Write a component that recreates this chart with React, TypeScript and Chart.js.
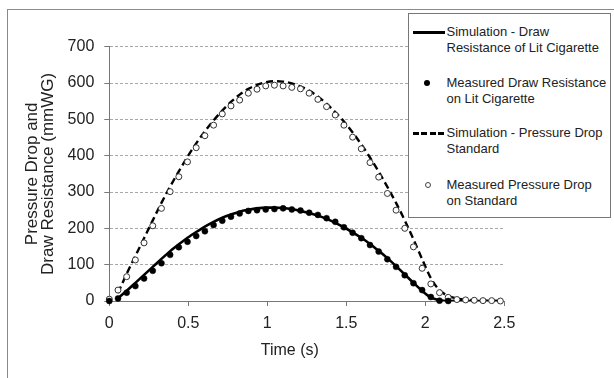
import React, { useEffect, useRef } from 'react';
import { Chart, registerables } from 'chart.js';

Chart.register(...registerables);

// ---- data ----
const TIME = [
  0, 0.055, 0.11, 0.165, 0.22, 0.275, 0.33, 0.385, 0.44, 0.495,
  0.55, 0.605, 0.66, 0.715, 0.77, 0.825, 0.88, 0.935, 0.99, 1.045,
  1.1, 1.155, 1.21, 1.265, 1.32, 1.375, 1.43, 1.485, 1.54, 1.595,
  1.65, 1.705, 1.76, 1.815, 1.87, 1.925, 1.98, 2.035, 2.09, 2.145,
  2.2, 2.255, 2.31, 2.365, 2.42, 2.475,
];

const MEASURED_PRESSURE_DROP = [
  5, 30, 67, 113, 160, 207, 255, 301, 342, 383,
  422, 455, 484, 515, 537, 553, 572, 583, 592, 594,
  592, 588, 584, 572, 555, 535, 512, 484, 451, 419,
  381, 341, 296, 250, 200, 149, 90, 47, 23, 10,
  4, 3, 2, 1, 1, 0,
];

const MEASURED_DRAW_RESISTANCE = [
  0, 7, 23, 41, 62, 83, 104, 127, 148, 163,
  179, 192, 209, 221, 232, 241, 248, 250, 252, 253,
  255, 252, 249, 243, 237, 228, 218, 203, 188, 173,
  154, 136, 115, 94, 71, 49, 30, 11, 1, 0,
];

const SIM_TIME = [
  0.055, 0.11, 0.165, 0.22, 0.275, 0.33, 0.385, 0.44, 0.495,
  0.55, 0.605, 0.66, 0.715, 0.77, 0.825, 0.88, 0.935, 0.99, 1.045,
  1.1, 1.155, 1.21, 1.265, 1.32, 1.375, 1.43, 1.485, 1.54, 1.595,
  1.65, 1.705, 1.76, 1.815, 1.87, 1.925, 1.98, 2.035, 2.09, 2.145,
  2.2, 2.255, 2.31, 2.365, 2.42, 2.475,
];

const SIM_DRAW_RESISTANCE = [
  8, 28, 50, 72, 94, 116, 137, 156, 174,
  190, 205, 218, 229, 238, 246, 251, 255, 257, 257,
  256, 253, 248, 242, 235, 226, 215, 203, 189, 174,
  157, 138, 118, 96, 73, 50, 28, 10, 2, 0,
  0, 0, 0, 0, 0, 0,
];

const SIM_PRESSURE_DROP = [
  22, 75, 124, 173, 222, 270, 315, 357, 397,
  434, 467, 497, 524, 548, 568, 584, 595, 602, 605,
  604, 599, 591, 579, 563, 543, 520, 494, 464, 431,
  395, 356, 314, 270, 222, 170, 115, 63, 30, 14,
  7, 4, 2, 1, 0, 0,
];

const X_TICKS = [0, 0.5, 1, 1.5, 2, 2.5];
const X_TICK_LABELS = ['0', '0.5', '1', '1.5', '2', '2.5'];
const Y_TICKS = [0, 100, 200, 300, 400, 500, 600, 700];
const Y_TICK_LABELS = ['0', '100', '200', '300', '400', '500', '600', '700'];

const X_TITLE = 'Time (s)';
const Y_TITLE = ['Pressure Drop and', 'Draw Resistance (mmWG)'];

const LEGEND_SIM_DRAW = ['Simulation - Draw', 'Resistance of Lit Cigarette'];
const LEGEND_MEAS_DRAW = ['Measured Draw Resistance', 'on Lit Cigarette'];
const LEGEND_SIM_PRESSURE = ['Simulation - Pressure Drop', 'Standard'];
const LEGEND_MEAS_PRESSURE = ['Measured Pressure Drop', 'on Standard'];

const FONT = '"Liberation Sans", Arial, sans-serif';

const pairs = (xs: number[], ys: number[]) => ys.map((y, i) => ({ x: xs[i], y }));

const xTitlePlugin = {
  id: 'xTitleCustom',
  afterDraw(chart: any) {
    const { ctx, chartArea } = chart;
    ctx.save();
    ctx.font = `16px ${FONT}`;
    ctx.fillStyle = '#222';
    ctx.textAlign = 'center';
    ctx.textBaseline = 'middle';
    ctx.fillText(X_TITLE, (chartArea.left + chartArea.right) / 2 - 17, chartArea.bottom + 50);
    ctx.restore();
  },
};

function LegendText({ lines, top }: { lines: string[]; top: number }) {
  return (
    <div
      style={{
        position: 'absolute',
        left: 446.5,
        top,
        font: `13px ${FONT}`,
        lineHeight: '16px',
        color: '#222',
        whiteSpace: 'nowrap',
      }}
    >
      {lines.map((l, i) => (
        <div key={i}>{l}</div>
      ))}
    </div>
  );
}

export default function App() {
  const canvasRef = useRef<HTMLCanvasElement | null>(null);

  useEffect(() => {
    const canvas = canvasRef.current;
    if (!canvas) return;
    const chart = new Chart(canvas, {
      type: 'scatter',
      data: {
        datasets: [
          {
            label: LEGEND_MEAS_DRAW.join(' '),
            data: pairs(TIME, MEASURED_DRAW_RESISTANCE),
            showLine: false,
            pointRadius: 3,
            pointBackgroundColor: '#000',
            pointBorderColor: '#000',
            pointBorderWidth: 0.5,
            clip: false,
          } as any,
          {
            label: LEGEND_MEAS_PRESSURE.join(' '),
            data: pairs(TIME, MEASURED_PRESSURE_DROP),
            showLine: false,
            pointRadius: 3,
            pointBackgroundColor: '#fff',
            pointBorderColor: '#333',
            pointBorderWidth: 1,
            clip: false,
          } as any,
          {
            type: 'line',
            label: LEGEND_SIM_DRAW.join(' '),
            data: pairs(SIM_TIME, SIM_DRAW_RESISTANCE),
            borderColor: '#000',
            borderWidth: 2.6,
            pointRadius: 0,
            cubicInterpolationMode: 'monotone',
            fill: false,
          } as any,
          {
            type: 'line',
            label: LEGEND_SIM_PRESSURE.join(' '),
            data: pairs(SIM_TIME, SIM_PRESSURE_DROP),
            borderColor: '#000',
            borderWidth: 2.4,
            borderDash: [7, 4],
            pointRadius: 0,
            cubicInterpolationMode: 'monotone',
            fill: false,
          } as any,
        ],
      },
      options: {
        responsive: false,
        animation: false,
        devicePixelRatio: 1,
        layout: { padding: { left: 0, top: 46.7, right: 109.7, bottom: 37 } },
        plugins: {
          legend: { display: false },
          tooltip: { enabled: false },
        },
        scales: {
          x: {
            type: 'linear',
            min: 0,
            max: 2.5,
            afterFit: (s: any) => {
              s.height = 40;
            },
            afterBuildTicks: (s: any) => {
              s.ticks = X_TICKS.map((v) => ({ value: v }));
            },
            ticks: {
              callback: (v: any) => {
                const i = X_TICKS.indexOf(Number(v));
                return i >= 0 ? X_TICK_LABELS[i] : '';
              },
              font: { size: 16, family: FONT },
              color: '#222',
              padding: 8,
              maxRotation: 0,
              autoSkip: false,
            },
            grid: {
              drawOnChartArea: false,
              drawTicks: true,
              tickLength: 5,
              tickColor: '#777',
              color: '#777',
            },
            border: { color: '#777', width: 1 },
          },
          y: {
            type: 'linear',
            min: 0,
            max: 700,
            afterFit: (s: any) => {
              s.width = 109.3;
            },
            afterBuildTicks: (s: any) => {
              s.ticks = Y_TICKS.map((v) => ({ value: v }));
            },
            ticks: {
              callback: (v: any) => {
                const i = Y_TICKS.indexOf(Number(v));
                return i >= 0 ? Y_TICK_LABELS[i] : '';
              },
              font: { size: 16, family: FONT },
              color: '#222',
              padding: 10,
              autoSkip: false,
            },
            grid: {
              color: (ctx: any) => (ctx.tick && ctx.tick.value === 0 ? 'rgba(0,0,0,0)' : '#a8a8a8'),
              tickColor: '#777',
              tickLength: 5,
              lineWidth: 1,
            },
            border: { color: '#777', width: 1, dash: [3, 2] },
            title: {
              display: true,
              text: Y_TITLE,
              font: { size: 17, family: FONT, lineHeight: '16px' },
              color: '#222',
              padding: { top: 24, bottom: 0 },
            },
          },
        },
      } as any,
      plugins: [xTitlePlugin],
    });
    return () => chart.destroy();
  }, []);

  return (
    <div
      style={{
        position: 'fixed',
        left: 0,
        top: 0,
        width: 614,
        height: 378,
        overflow: 'hidden',
        background: '#fff',
      }}
    >
      <canvas
        ref={canvasRef}
        width={614}
        height={378}
        style={{ position: 'absolute', left: 0, top: 0, width: 614, height: 378 }}
      />
      {/* outer frame (left and top edges visible) */}
      <div
        style={{
          position: 'absolute',
          left: 7,
          top: 9,
          width: 700,
          height: 500,
          borderLeft: '1.5px solid #8a8a8a',
          borderTop: '1.5px solid #8a8a8a',
          boxSizing: 'border-box',
        }}
      />
      {/* legend */}
      <div
        style={{
          position: 'absolute',
          left: 408,
          top: 13,
          width: 203,
          height: 205,
          border: '1px solid #777',
          background: '#fff',
          boxSizing: 'border-box',
        }}
      />
      <div style={{ position: 'absolute', left: 412.5, top: 31, width: 32.5, height: 2.6, background: '#000' }} />
      <LegendText lines={LEGEND_SIM_DRAW} top={24.3} />
      <div
        style={{
          position: 'absolute',
          left: 423.5,
          top: 80,
          width: 6,
          height: 6,
          borderRadius: '50%',
          background: '#000',
        }}
      />
      <LegendText lines={LEGEND_MEAS_DRAW} top={74.7} />
      <div
        style={{
          position: 'absolute',
          left: 412.5,
          top: 132,
          width: 32.5,
          height: 2.5,
          background: 'repeating-linear-gradient(to right, #000 0 6px, transparent 6px 8.5px)',
        }}
      />
      <LegendText lines={LEGEND_SIM_PRESSURE} top={125.3} />
      <div
        style={{
          position: 'absolute',
          left: 425,
          top: 182,
          width: 6,
          height: 6,
          borderRadius: '50%',
          border: '1px solid #444',
          background: '#fff',
          boxSizing: 'border-box',
        }}
      />
      <LegendText lines={LEGEND_MEAS_PRESSURE} top={177} />
    </div>
  );
}
